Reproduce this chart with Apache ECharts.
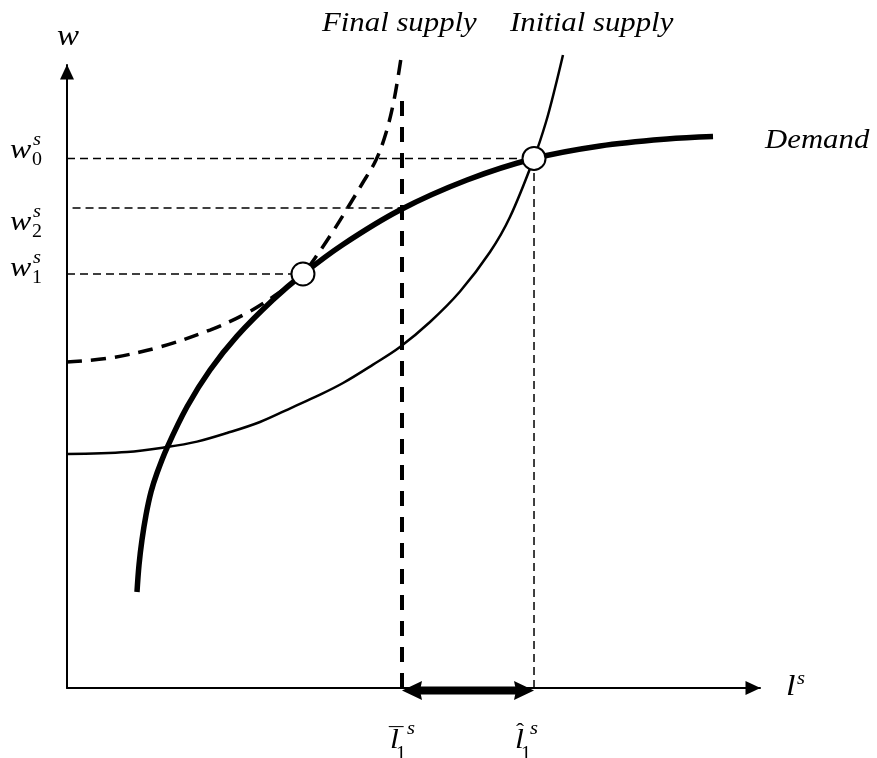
<!DOCTYPE html>
<html><head><meta charset="utf-8">
<script src="https://cdn.jsdelivr.net/npm/echarts@6/dist/echarts.min.js"></script>
<style>html,body{margin:0;padding:0;background:#fff}#c{width:877px;height:758px}</style>
</head><body><div id="c"></div>
<script>
// ---- data (arbitrary units 0..100) ----
const demandX = [10.10,10.39,10.82,11.40,12.12,12.99,14.43,17.32,20.64,24.53,29.73,34.05,39.83,48.05,57.72,67.39,76.91,86.58,93.22];
const demandY = [15.41,19.74,23.76,27.77,31.46,34.51,38.56,45.14,51.04,56.47,62.31,66.45,71.20,76.73,81.54,84.99,87.00,88.12,88.51];
const initialX = [0,8.66,14.43,18.76,23.09,27.85,32.61,36.22,39.83,44.16,48.05,52.38,56.71,61.04,63.92,67.39,69.12,70.42,71.57];
const initialY = [37.56,37.88,38.68,39.55,40.93,42.70,45.10,46.93,48.96,51.91,54.74,58.75,63.64,69.98,75.60,85.07,90.85,96.31,101.61];
const finalX = [0,6.20,13.42,20.63,25.97,30.74,34.05,35.79,37.95,40.40,42.57,44.59,46.03,47.19,48.20];
const finalY = [52.33,52.97,54.74,57.46,60.19,63.56,66.45,69.02,72.55,76.89,80.90,84.75,89.09,94.38,101.12];
const wLevels = [85.0, 77.05, 66.45];          // w0, w2, w1
const wTickBase = ['w','w','w'];
const wTickSub = ['0','2','1'];
const lBar = 48.34, lHat = 67.39, lAtW1 = 34.05, finalVertTop = 94.4, w2Start = 0.8;
const lTickValues = [lBar, lHat];
const lTickAccent = ['\u00AF','\u02C6'];
const curveNames = ['Final supply','Initial supply','Demand'];
const axisNames = ['w','l'];
const arrowY = -0.4, arrowInset = 1.4;

const zip = (xs, ys) => xs.map((x,i)=>[x, ys[i]]);
const chart = echarts.init(document.getElementById('c'), null, {renderer:'canvas'});

function lineSeries(data, style, extra) {
  return Object.assign({type:'line', data, showSymbol:false, symbol:'none', silent:true,
    clip:false, animation:false, lineStyle:Object.assign({color:'#000', cap:'butt'}, style)}, extra||{});
}
const thin = {width:1.5, type:[8,5]};
const axisCommon = {
  type:'value', min:0, max:100,
  axisLine:{show:true, onZero:true, symbol:['none','triangle'], symbolSize:[14,15], symbolOffset:[0,-7],
    lineStyle:{color:'#000', width:2}},
  axisTick:{show:false}, axisLabel:{show:false}, splitLine:{show:false}
};
const headPath = 'path://M0,0 L9.5,20 L0,18 L-9.5,20 Z';

const option = {
  animation:false,
  backgroundColor:'#fff',
  grid:{left:67, right:117, top:65, bottom:70},
  xAxis:axisCommon,
  yAxis:axisCommon,
  series:[
    lineSeries([[0,wLevels[0]],[lHat,wLevels[0]]], thin),
    lineSeries([[w2Start,wLevels[1]],[lBar,wLevels[1]]], thin),
    lineSeries([[0,wLevels[2]],[lAtW1,wLevels[2]]], thin),
    lineSeries([[lHat,0],[lHat,wLevels[0]]], thin),
    lineSeries([[lBar,0],[lBar,finalVertTop]], {width:4, type:[15,11]}),
    lineSeries(zip(initialX, initialY), {width:2.5}, {smooth:0.35}),
    lineSeries(zip(finalX, finalY), {width:3.5, type:[15,9]}, {smooth:0.35}),
    lineSeries(zip(demandX, demandY), {width:5.5}, {smooth:0.35}),
    lineSeries([[lBar+arrowInset,arrowY],[lHat-arrowInset,arrowY]], {width:8}, {z:5}),
    {type:'scatter', silent:true, animation:false, clip:false, z:6, symbol:headPath, symbolSize:[19,20],
      itemStyle:{color:'#000', opacity:1},
      data:[
        {value:[lBar,arrowY], symbolRotate:90, symbolOffset:[10,0]},
        {value:[lHat,arrowY], symbolRotate:-90, symbolOffset:[-10,0]}
      ]},
    {type:'scatter', data:[[lAtW1,wLevels[2]],[lHat,wLevels[0]]], symbol:'circle', symbolSize:23,
      silent:true, clip:false, z:10, animation:false, itemStyle:{color:'#fff', borderColor:'#000', borderWidth:2, opacity:1}}
  ]
};
chart.setOption(option);

// ---- text labels ----
const FONT = '"Liberation Serif", "Times New Roman", serif';
function txt(x, baseline, s, size, italic, sx) {
  return {type:'text', x:x, y:baseline - 0.34*size, scaleX: sx==null?1.14:sx, z:100, silent:true,
    style:{text:s, font:(italic?'italic ':'') + size + 'px ' + FONT, fill:'#000',
      align:'left', verticalAlign:'middle', textAlign:'left', textVerticalAlign:'middle'}};
}
const P = (x,y) => chart.convertToPixel({gridIndex:0},[x,y]);
const O = P(0,0);
const g = [];
g.push(txt(322, 33, curveNames[0], 27, true));
g.push(txt(510, 33, curveNames[1], 27, true));
g.push(txt(765, 150, curveNames[2], 27, true));
g.push(txt(O[0]-10, 47, axisNames[0], 29, true));
g.push(txt(786, 697, axisNames[1], 30, true));
g.push(txt(797, 685, 's', 18, true));
const wBaseOff = [2, 24, 4];
wLevels.forEach((v,i) => {
  const yl = P(0,v)[1];
  const b = yl + wBaseOff[i];
  g.push(txt(O[0]-57, b, wTickBase[i], 28, true));
  g.push(txt(O[0]-35, b+6, wTickSub[i], 19, false, 1.05));
  g.push(txt(O[0]-34, b-14, 's', 18, true));
});
const lOff = [-12, -19];
lTickValues.forEach((v,i) => {
  const xl = P(v,0)[0];
  const lx = xl + lOff[i];
  g.push(txt(lx, 750, 'l', 28, true));
  if (i === 0) g.push(txt(lx - 1, 746, lTickAccent[i], 24, false, 1.2));
  else g.push(txt(lx + 1, 740, lTickAccent[i], 22, false, 1.1));
  g.push(txt(lx + 6, 760, '1', 19, false, 1.05));
  g.push(txt(lx + (i===0?17:15), 735, 's', 18, true));
});
chart.setOption({graphic: g});
</script></body></html>
